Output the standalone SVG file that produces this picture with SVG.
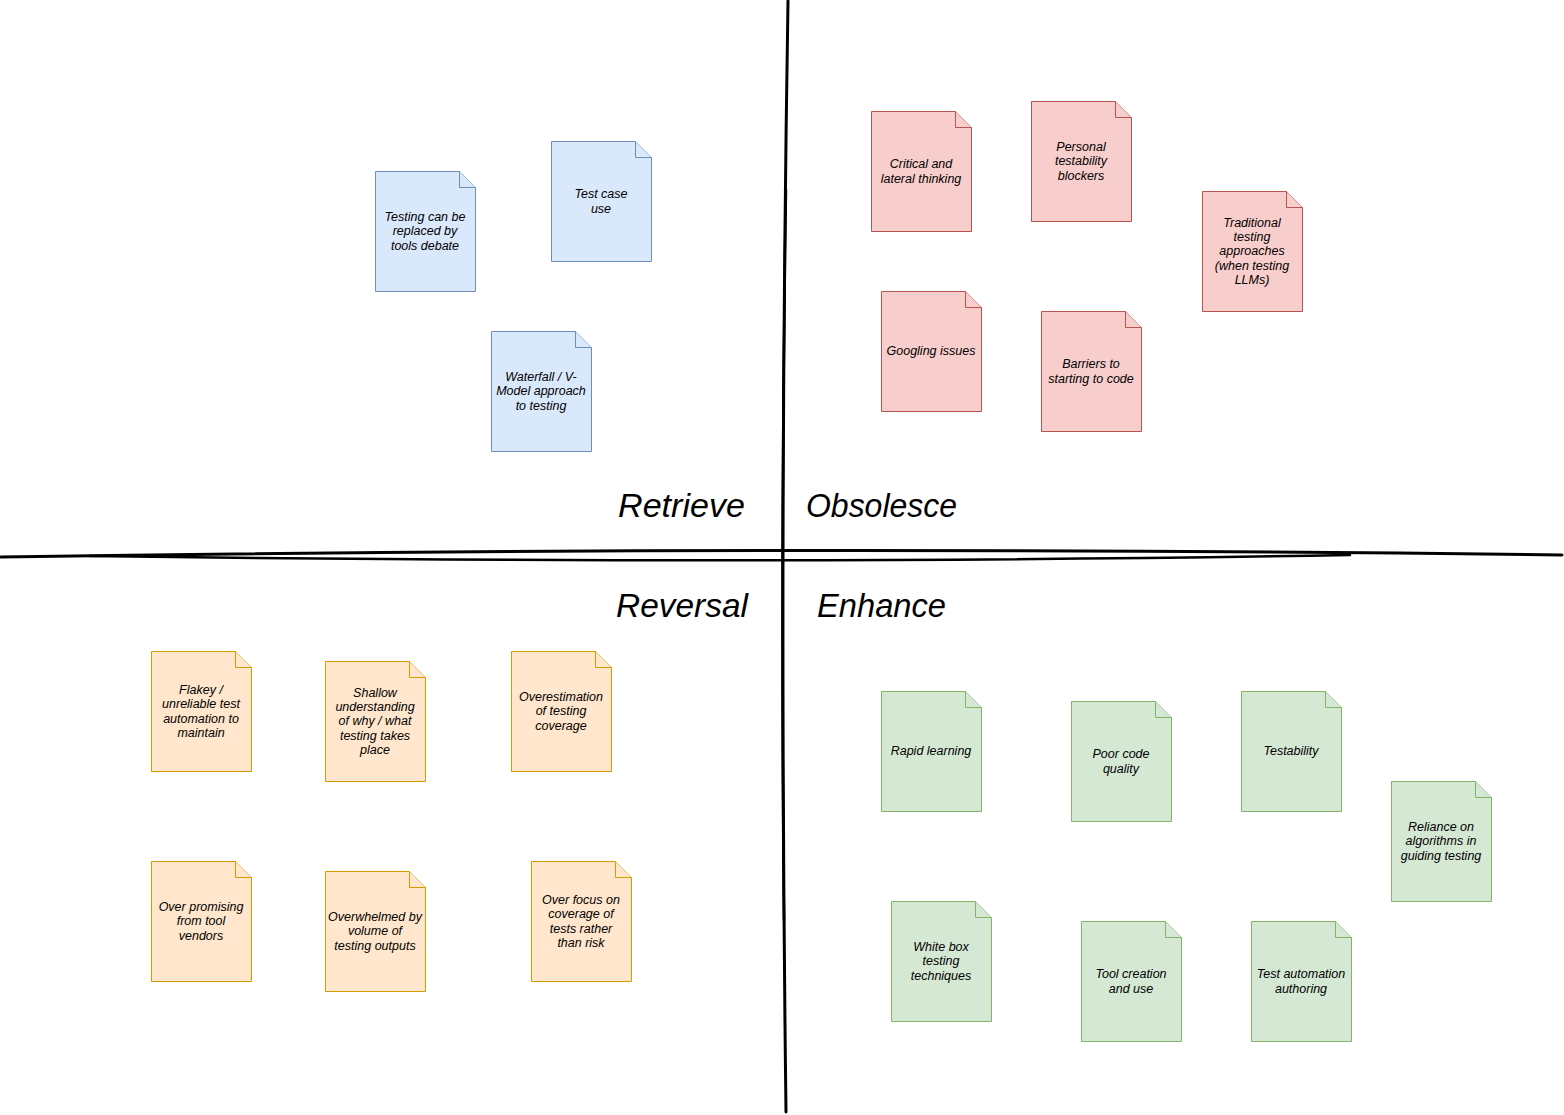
<svg xmlns="http://www.w3.org/2000/svg" width="1564" height="1115" viewBox="0 0 1564 1115">
<defs>
<style>
.n text{font-family:"Liberation Sans","DejaVu Sans",sans-serif;font-style:italic;font-size:12.5px;text-anchor:middle;fill:#000}
.b path{fill:#dae8fc;stroke:#6c8ebf}
.r path{fill:#f8cecc;stroke:#b85450}
.o path{fill:#ffe6cc;stroke:#d79b00}
.g path{fill:#d5e8d4;stroke:#82b366}
.q{font-family:"Liberation Sans","DejaVu Sans",sans-serif;font-style:italic;font-size:34px;fill:#000}
.ln{fill:none;stroke:#000;stroke-linecap:round}
</style>
</defs>

<g id="connectors">
<path class="ln" stroke-width="3" d="M788,1 Q779,557 786,1112"/>
<path class="ln" stroke-width="2.5" d="M786,190 Q780,560 784,920"/>
<path class="ln" stroke-width="3" d="M1,557 Q780,545 1562,555"/>
<path class="ln" stroke-width="2.5" d="M90,556 Q780,565 1350,555"/>
</g>

<g id="labels">
<text class="q" x="618" y="517" textLength="127" lengthAdjust="spacingAndGlyphs">Retrieve</text>
<text class="q" x="806" y="517" textLength="151" lengthAdjust="spacingAndGlyphs">Obsolesce</text>
<text class="q" x="616" y="617" textLength="132" lengthAdjust="spacingAndGlyphs">Reversal</text>
<text class="q" x="817" y="617" textLength="129" lengthAdjust="spacingAndGlyphs">Enhance</text>
</g>

<!-- Blue -->
<g id="n-tools-debate" class="n b" transform="translate(375,171)">
<path d="M0.5,0.5 H84.5 L100.5,16.5 V120.5 H0.5 Z"/><path d="M84.5,0.5 V16.5 H100.5"/>
<text x="50" y="49.5">Testing can be</text><text x="50" y="64">replaced by</text><text x="50" y="78.5">tools debate</text>
</g>
<g id="n-test-case" class="n b" transform="translate(551,141)">
<path d="M0.5,0.5 H84.5 L100.5,16.5 V120.5 H0.5 Z"/><path d="M84.5,0.5 V16.5 H100.5"/>
<text x="50" y="57">Test case</text><text x="50" y="71.5">use</text>
</g>
<g id="n-waterfall" class="n b" transform="translate(491,331)">
<path d="M0.5,0.5 H84.5 L100.5,16.5 V120.5 H0.5 Z"/><path d="M84.5,0.5 V16.5 H100.5"/>
<text x="50" y="49.5">Waterfall / V-</text><text x="50" y="64">Model approach</text><text x="50" y="78.5">to testing</text>
</g>

<!-- Red -->
<g id="n-critical" class="n r" transform="translate(871,111)">
<path d="M0.5,0.5 H84.5 L100.5,16.5 V120.5 H0.5 Z"/><path d="M84.5,0.5 V16.5 H100.5"/>
<text x="50" y="57">Critical and</text><text x="50" y="71.5">lateral thinking</text>
</g>
<g id="n-personal" class="n r" transform="translate(1031,101)">
<path d="M0.5,0.5 H84.5 L100.5,16.5 V120.5 H0.5 Z"/><path d="M84.5,0.5 V16.5 H100.5"/>
<text x="50" y="49.5">Personal</text><text x="50" y="64">testability</text><text x="50" y="78.5">blockers</text>
</g>
<g id="n-traditional" class="n r" transform="translate(1202,191)">
<path d="M0.5,0.5 H84.5 L100.5,16.5 V120.5 H0.5 Z"/><path d="M84.5,0.5 V16.5 H100.5"/>
<text x="50" y="35.5">Traditional</text><text x="50" y="50">testing</text><text x="50" y="64">approaches</text><text x="50" y="78.5">(when testing</text><text x="50" y="93">LLMs)</text>
</g>
<g id="n-googling" class="n r" transform="translate(881,291)">
<path d="M0.5,0.5 H84.5 L100.5,16.5 V120.5 H0.5 Z"/><path d="M84.5,0.5 V16.5 H100.5"/>
<text x="50" y="64">Googling issues</text>
</g>
<g id="n-barriers" class="n r" transform="translate(1041,311)">
<path d="M0.5,0.5 H84.5 L100.5,16.5 V120.5 H0.5 Z"/><path d="M84.5,0.5 V16.5 H100.5"/>
<text x="50" y="57">Barriers to</text><text x="50" y="71.5">starting to code</text>
</g>

<!-- Orange -->
<g id="n-flakey" class="n o" transform="translate(151,651)">
<path d="M0.5,0.5 H84.5 L100.5,16.5 V120.5 H0.5 Z"/><path d="M84.5,0.5 V16.5 H100.5"/>
<text x="50" y="42.5">Flakey /</text><text x="50" y="57">unreliable test</text><text x="50" y="71.5">automation to</text><text x="50" y="86">maintain</text>
</g>
<g id="n-shallow" class="n o" transform="translate(325,661)">
<path d="M0.5,0.5 H84.5 L100.5,16.5 V120.5 H0.5 Z"/><path d="M84.5,0.5 V16.5 H100.5"/>
<text x="50" y="35.5">Shallow</text><text x="50" y="50">understanding</text><text x="50" y="64">of why / what</text><text x="50" y="78.5">testing takes</text><text x="50" y="93">place</text>
</g>
<g id="n-overestimation" class="n o" transform="translate(511,651)">
<path d="M0.5,0.5 H84.5 L100.5,16.5 V120.5 H0.5 Z"/><path d="M84.5,0.5 V16.5 H100.5"/>
<text x="50" y="49.5">Overestimation</text><text x="50" y="64">of testing</text><text x="50" y="78.5">coverage</text>
</g>
<g id="n-overpromising" class="n o" transform="translate(151,861)">
<path d="M0.5,0.5 H84.5 L100.5,16.5 V120.5 H0.5 Z"/><path d="M84.5,0.5 V16.5 H100.5"/>
<text x="50" y="49.5">Over promising</text><text x="50" y="64">from tool</text><text x="50" y="78.5">vendors</text>
</g>
<g id="n-overwhelmed" class="n o" transform="translate(325,871)">
<path d="M0.5,0.5 H84.5 L100.5,16.5 V120.5 H0.5 Z"/><path d="M84.5,0.5 V16.5 H100.5"/>
<text x="50" y="49.5">Overwhelmed by</text><text x="50" y="64">volume of</text><text x="50" y="78.5">testing outputs</text>
</g>
<g id="n-overfocus" class="n o" transform="translate(531,861)">
<path d="M0.5,0.5 H84.5 L100.5,16.5 V120.5 H0.5 Z"/><path d="M84.5,0.5 V16.5 H100.5"/>
<text x="50" y="42.5">Over focus on</text><text x="50" y="57">coverage of</text><text x="50" y="71.5">tests rather</text><text x="50" y="86">than risk</text>
</g>

<!-- Green -->
<g id="n-rapid" class="n g" transform="translate(881,691)">
<path d="M0.5,0.5 H84.5 L100.5,16.5 V120.5 H0.5 Z"/><path d="M84.5,0.5 V16.5 H100.5"/>
<text x="50" y="64">Rapid learning</text>
</g>
<g id="n-poorcode" class="n g" transform="translate(1071,701)">
<path d="M0.5,0.5 H84.5 L100.5,16.5 V120.5 H0.5 Z"/><path d="M84.5,0.5 V16.5 H100.5"/>
<text x="50" y="57">Poor code</text><text x="50" y="71.5">quality</text>
</g>
<g id="n-testability" class="n g" transform="translate(1241,691)">
<path d="M0.5,0.5 H84.5 L100.5,16.5 V120.5 H0.5 Z"/><path d="M84.5,0.5 V16.5 H100.5"/>
<text x="50" y="64">Testability</text>
</g>
<g id="n-reliance" class="n g" transform="translate(1391,781)">
<path d="M0.5,0.5 H84.5 L100.5,16.5 V120.5 H0.5 Z"/><path d="M84.5,0.5 V16.5 H100.5"/>
<text x="50" y="49.5">Reliance on</text><text x="50" y="64">algorithms in</text><text x="50" y="78.5">guiding testing</text>
</g>
<g id="n-whitebox" class="n g" transform="translate(891,901)">
<path d="M0.5,0.5 H84.5 L100.5,16.5 V120.5 H0.5 Z"/><path d="M84.5,0.5 V16.5 H100.5"/>
<text x="50" y="49.5">White box</text><text x="50" y="64">testing</text><text x="50" y="78.5">techniques</text>
</g>
<g id="n-toolcreation" class="n g" transform="translate(1081,921)">
<path d="M0.5,0.5 H84.5 L100.5,16.5 V120.5 H0.5 Z"/><path d="M84.5,0.5 V16.5 H100.5"/>
<text x="50" y="57">Tool creation</text><text x="50" y="71.5">and use</text>
</g>
<g id="n-automation" class="n g" transform="translate(1251,921)">
<path d="M0.5,0.5 H84.5 L100.5,16.5 V120.5 H0.5 Z"/><path d="M84.5,0.5 V16.5 H100.5"/>
<text x="50" y="57">Test automation</text><text x="50" y="71.5">authoring</text>
</g>
</svg>
